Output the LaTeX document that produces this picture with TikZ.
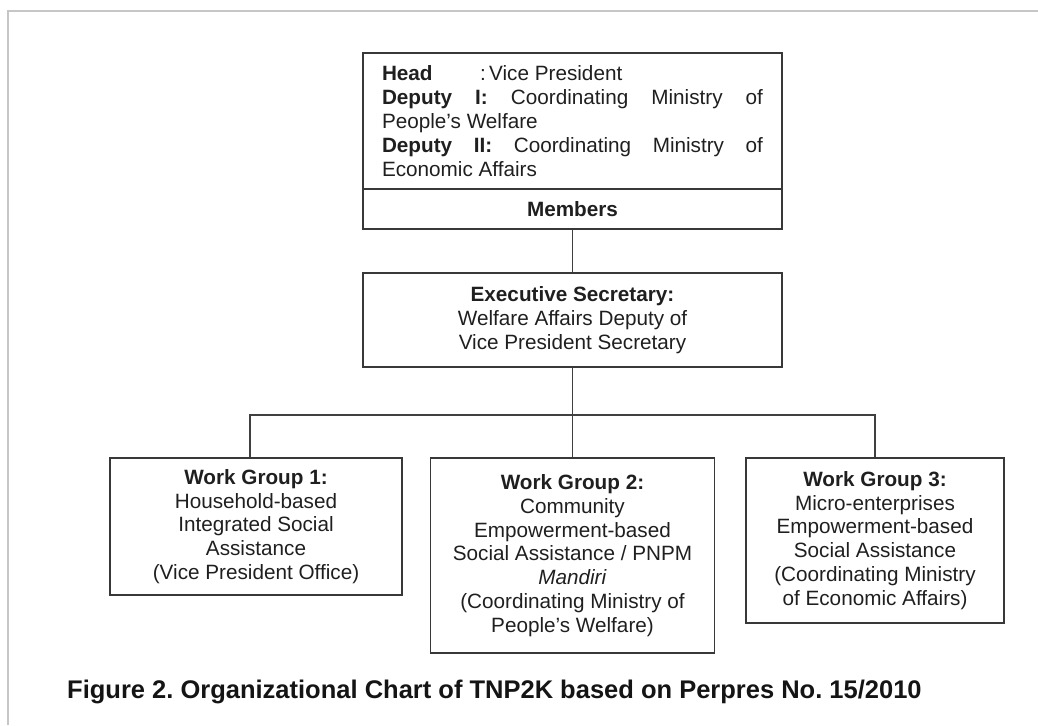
\documentclass[tikz,border=0pt]{standalone}
\usepackage{fontspec}
\setmainfont{Liberation Sans}
\frenchspacing
\begin{document}
\begin{tikzpicture}[x=1pt,y=-1pt,
  boxline/.style={draw=black!78,line width=1.7pt},
  orgbox/.style={boxline,rectangle,inner sep=0pt,align=center,text=black!88,
    font=\fontsize{20.7}{23.8}\selectfont},
  link/.style={draw=black!75,line width=1.7pt}]
% page frame
\useasboundingbox (0,0) rectangle (1038,725);
\draw[gray!45,line width=2pt] (8,725) -- (8,11) -- (1038,11);

% steering team
\node[orgbox,minimum width=419pt,minimum height=136pt] (head) at (572.5,121) {%
  \begin{minipage}{381pt}\fontsize{20.7}{24}\selectfont
  \makebox[98pt][l]{\bfseries Head}:\,Vice President\\
  \hbox to 381pt{\bfseries Deputy\hfill I:\hfill\mdseries Coordinating\hfill Ministry\hfill of}\\
  People’s Welfare\\
  \hbox to 381pt{\bfseries Deputy\hfill II:\hfill\mdseries Coordinating\hfill Ministry\hfill of}\\
  Economic Affairs
  \end{minipage}};
\node[orgbox,minimum width=419pt,minimum height=40pt] (members) at (572.5,209)
  {\bfseries Members};

% executive secretary
\node[orgbox,minimum width=419pt,minimum height=94pt] (exec) at (572.5,320)
  {\textbf{Executive Secretary:}\\Welfare Affairs Deputy of\\Vice President Secretary};

% work groups
\node[orgbox,minimum width=292pt,minimum height=137pt] (wg1) at (256,526.5)
  {\textbf{Work Group 1:}\\Household-based\\Integrated Social\\Assistance\\(Vice President Office)};
\node[orgbox,minimum width=284pt,minimum height=195pt] (wg2) at (572.5,555.5)
  {\textbf{Work Group 2:}\\Community\\Empowerment-based\\Social Assistance / PNPM\\\textit{Mandiri}\\(Coordinating Ministry of\\People’s Welfare)};
\node[orgbox,minimum width=258pt,minimum height=165pt] (wg3) at (875,540.5)
  {\textbf{Work Group 3:}\\Micro-enterprises\\Empowerment-based\\Social Assistance\\(Coordinating Ministry\\of Economic Affairs)};

% connectors
\coordinate (bus) at (572.5,415);
\draw[link] (members.south) -- (exec.north);
\draw[link] (exec.south) -- (bus);
\draw[link] ([xshift=-6pt]wg1.north) |- (bus) -| (wg3.north);
\draw[link] (bus) -- (wg2.north);

% caption
\node[anchor=west,text=black!92,font=\fontsize{25.5}{30}\selectfont\bfseries,inner sep=0pt] (caption) at (67,692)
  {Figure 2. Organizational Chart of TNP2K based on Perpres No. 15/2010};
\end{tikzpicture}
\end{document}
